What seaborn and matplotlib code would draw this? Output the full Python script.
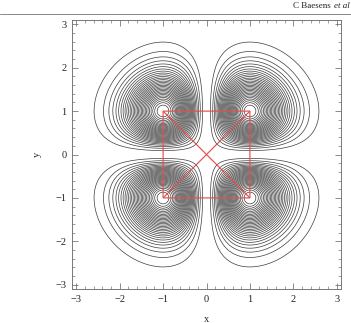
import numpy as np
import matplotlib
matplotlib.use("Agg")
import matplotlib.pyplot as plt
import seaborn as sns
from matplotlib.ticker import MultipleLocator

# ---- data ----
x_range = [-3.1, 3.1]
y_range = [-3.1, 3.1]
major_ticks = [-3, -2, -1, 0, 1, 2, 3]
n_levels = 30
level_low = 0.0030
level_high = 0.1305
# red segments: square through (+-1, +-1) with both diagonals
seg_x0 = [-1, 1, -1, -1, -1, -1]
seg_y0 = [-1, -1, 1, -1, -1, 1]
seg_x1 = [1, 1, 1, -1, 1, 1]
seg_y1 = [-1, 1, 1, 1, 1, -1]

sns.set_style("ticks")
plt.rcParams['font.family'] = ['Liberation Serif', 'DejaVu Serif']

fig = plt.figure(figsize=(3.51, 3.23), dpi=100)
ax = fig.add_axes([72/351, (323-289)/323, 269/351, 269/323])

gx = np.linspace(x_range[0], x_range[1], 700)
gy = np.linspace(y_range[0], y_range[1], 700)
X, Y = np.meshgrid(gx, gy)
F = X**2 * Y**2 * np.exp(-(X**2 + Y**2))
levels = np.linspace(level_low, level_high, n_levels)
ax.contour(X, Y, F, levels=levels, colors='#3c3c3c', linewidths=0.5, zorder=1)

for i in range(len(seg_x0)):
    ax.plot([seg_x0[i], seg_x1[i]], [seg_y0[i], seg_y1[i]],
            color='#e34f4f', linewidth=0.85, zorder=3, snap=False,
            solid_capstyle='butt')

ax.set_xlim(*x_range)
ax.set_ylim(*y_range)
ax.set_xticks(major_ticks)
ax.set_yticks(major_ticks)
ax.xaxis.set_minor_locator(MultipleLocator(0.2))
ax.yaxis.set_minor_locator(MultipleLocator(0.2))
ax.tick_params(which='both', direction='in', top=True, right=True,
               colors='#777777', labelcolor='#222222', labelsize=7.5)
ax.tick_params(which='major', length=4, width=0.6, pad=4)
ax.tick_params(which='minor', length=2, width=0.5)
for sp in ax.spines.values():
    sp.set_color('#777777')
    sp.set_linewidth(0.7)
ax.set_xticklabels(['\u22123', '\u22122', '\u22121', '0', '1', '2', '3'])
ax.set_yticklabels(['\u22123', '\u22122', '\u22121', '0', '1', '2', '3'])
ax.set_xlabel('x', fontsize=7.5, labelpad=8)
ax.set_ylabel('y', fontsize=7.5, labelpad=10)

# header
fig.add_artist(plt.Line2D([0, 1], [1 - 14/323, 1 - 14/323], color='#888888', linewidth=0.7))
fig.text(0.994, 1 - 6/323, 'C Baesens ', ha='right', va='center', fontsize=6.5, color='#222222')
t = fig.text(0.997, 1 - 6/323, 'et al', ha='right', va='center', fontsize=6.5,
             style='italic', color='#222222')
fig.canvas.draw()
bb = t.get_window_extent()
fig.texts[0].set_x((bb.x0 - 1) / fig.bbox.width)

fig.savefig("out.png", dpi=100)
